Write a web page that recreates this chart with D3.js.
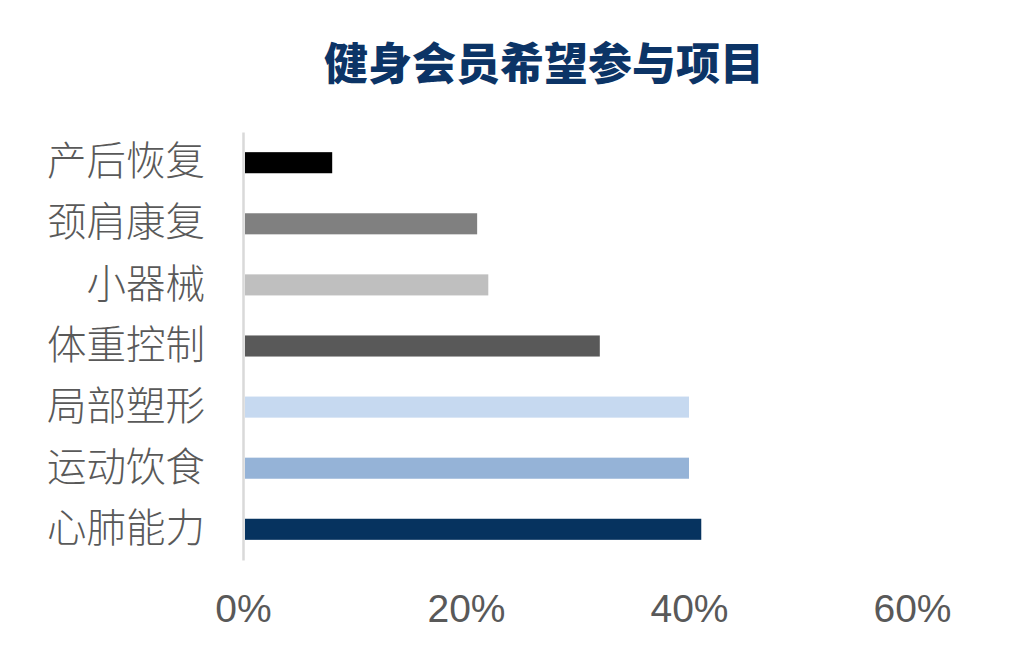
<!DOCTYPE html>
<html>
<head>
<meta charset="utf-8">
<script src="https://cdn.jsdelivr.net/npm/d3@7"></script>
<style>
    body { margin: 0; background: #fff; }
    svg { display: block; }
    .axis--x .domain, .axis--x line { display: none; }
    .axis--y line { display: none; }
</style>
</head>
<body>
<svg id="chart" width="1030" height="662"></svg>
<script>
// data
var categories = ["产后恢复", "颈肩康复", "小器械", "体重控制", "局部塑形", "运动饮食", "心肺能力"];
var values = [8.0, 21.0, 22.0, 32.0, 40.0, 40.0, 41.1];
var barColors = ["#000000", "#808080", "#bfbfbf", "#595959", "#c6d9f0", "#95b3d7", "#06335f"];
var xTicks = [0, 20, 40, 60];
var title = "健身会员希望参与项目";

var svg = d3.select("svg#chart");
var margin = {top: 132, right: 80, bottom: 102, left: 243};
var width = 912 - margin.left;
var height = +svg.attr("height") - margin.top - margin.bottom;
var g = svg.append("g").attr("transform", "translate(" + margin.left + "," + margin.top + ")");

var x = d3.scaleLinear()
    .domain([0, 60])
    .range([0, width]);

var y = d3.scaleBand()
    .domain(categories)
    .range([0, height])
    .paddingInner(0.655)
    .paddingOuter(0.33);

var fill = d3.scaleOrdinal()
    .domain(categories)
    .range(barColors);

var data = categories.map(function (c, i) { return {name: c, value: values[i]}; });

g.selectAll("rect.bar")
    .data(data)
    .enter().append("rect")
    .attr("class", "bar")
    .attr("x", x(0) + 2)
    .attr("y", function (d) { return y(d.name); })
    .attr("width", function (d) { return x(d.value) - x(0) - 2; })
    .attr("height", y.bandwidth())
    .attr("fill", function (d) { return fill(d.name); });

// vertical category axis
var yAxis = g.append("g")
    .attr("class", "axis axis--y")
    .call(d3.axisLeft(y).tickSize(0).tickPadding(38));

yAxis.select(".domain")
    .attr("stroke", "#d9d9d9")
    .attr("stroke-width", 2.5);

yAxis.selectAll("text")
    .style("font-family", "'Noto Sans CJK SC', sans-serif")
    .style("font-size", "39.5px")
    .style("font-weight", "300")
    .attr("fill", "#595959");

// horizontal value axis, labels only
var xAxis = g.append("g")
    .attr("class", "axis axis--x")
    .attr("transform", "translate(0," + height + ")")
    .call(d3.axisBottom(x)
        .tickValues(xTicks)
        .tickSize(0)
        .tickPadding(34)
        .tickFormat(function (d) { return d + "%"; }));

xAxis.selectAll("text")
    .style("font-family", "'Liberation Sans', Arial, sans-serif")
    .style("font-size", "39px")
    .attr("fill", "#595959");

svg.append("text")
    .attr("x", 544)
    .attr("y", 80)
    .attr("text-anchor", "middle")
    .style("font-family", "'Noto Sans CJK SC', sans-serif")
    .style("font-size", "44px")
    .style("font-weight", "900")
    .attr("fill", "#0c3466")
    .text(title);
</script>
</body>
</html>
